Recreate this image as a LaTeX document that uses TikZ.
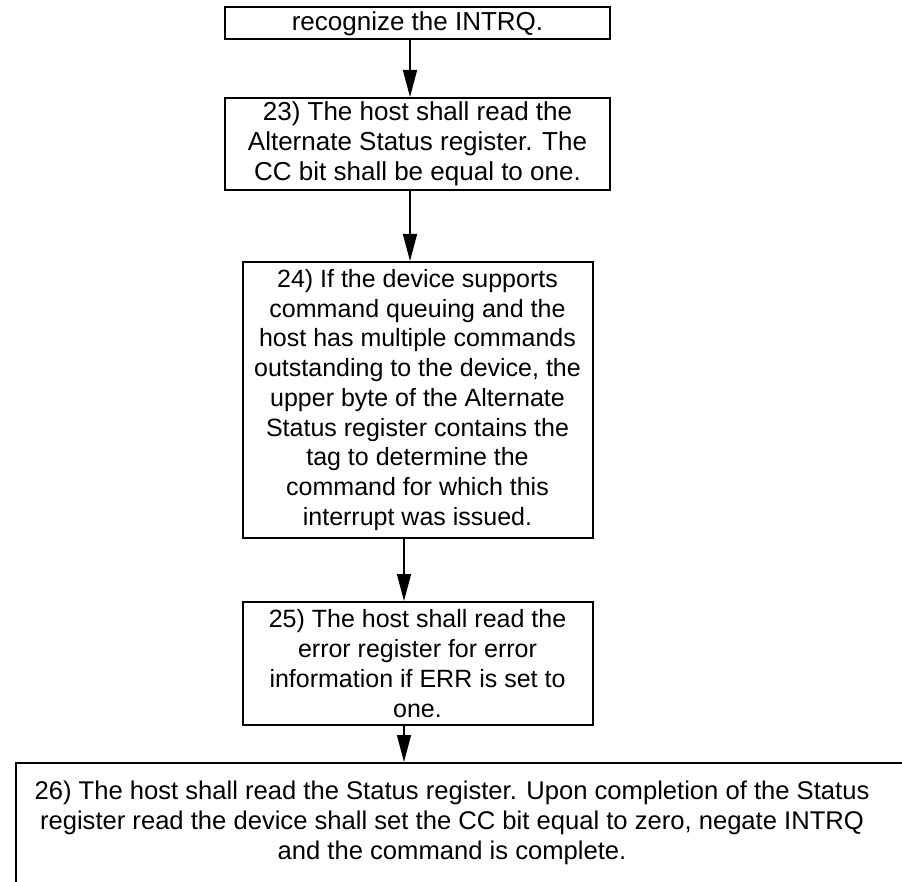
\documentclass[tikz,border=0pt]{standalone}
\usepackage{fontspec}
\setmainfont{Liberation Sans}
\usetikzlibrary{arrows.meta}
\begin{document}
\begin{tikzpicture}[x=1pt,y=-1pt,
  stepbox/.style={draw, line width=2pt, inner sep=0pt, align=center},
  bigtext/.style={font=\fontsize{26}{30}\selectfont},
  smalltext/.style={font=\fontsize{25}{29.75}\selectfont},
  flow/.style={line width=1.5pt, -{Triangle[length=27pt,width=14pt]}}]
\useasboundingbox (0,0) rectangle (902,882);
\clip (0,0) rectangle (902,882);

% process steps
\node[stepbox, bigtext, minimum width=385pt, minimum height=32pt] (s22) at (417.5,23.5)
  {recognize the INTRQ.};
\node[stepbox, bigtext, minimum width=385pt, minimum height=92pt] (s23) at (417.5,144)
  {23) The host shall read the\\Alternate Status register. The\\CC bit shall be equal to one.};
\node[stepbox, smalltext, minimum width=350pt, minimum height=276pt] (s24) at (417.5,400)
  {24) If the device supports\\command queuing and the\\host has multiple commands\\outstanding to the device, the\\upper byte of the Alternate\\Status register contains the\\tag to determine the\\command for which this\\interrupt was issued.};
\node[stepbox, smalltext, minimum width=350pt, minimum height=123pt] (s25) at (417.5,663.5)
  {25) The host shall read the\\error register for error\\information if ERR is set to\\one.};
\node[draw, line width=2pt, inner sep=0pt, anchor=north west,
  font=\fontsize{25.6}{30}\selectfont, text height=36pt, text depth=150pt] (s26) at (15,762)
  {\makebox[950pt][l]{\makebox[872pt]{\begin{tabular}[t]{@{}c@{}}
    26) The host shall read the Status register. Upon completion of the Status\\
    register read the device shall set the CC bit equal to zero, negate INTRQ\\
    and the command is complete.\end{tabular}}}};

% connectors
\coordinate (ca) at (410,0);
\coordinate (cb) at (404,0);
\draw[flow] (s22.south -| ca) -- (s23.north -| ca);
\draw[flow] (s23.south -| ca) -- (s24.north -| ca);
\draw[flow] (s24.south -| cb) -- (s25.north -| cb);
\draw[flow] (s25.south -| cb) -- (s26.north -| cb);
\end{tikzpicture}
\end{document}
